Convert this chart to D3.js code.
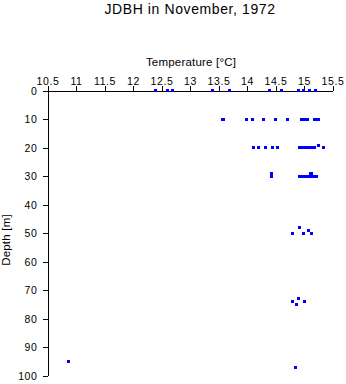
<!DOCTYPE html>
<html><head><meta charset="utf-8">
<script src="https://cdn.jsdelivr.net/npm/d3@7"></script>
<style>
html,body{margin:0;padding:0;background:#fff;}
svg{display:block;font-family:"Liberation Sans",Arial,sans-serif;}
</style></head>
<body>
<script>
const title = "JDBH in November, 1972";
const xLabel = "Temperature [°C]";
const yLabel = "Depth [m]";
const xTicks = [10.5, 11, 11.5, 12, 12.5, 13, 13.5, 14, 14.5, 15, 15.5];
const yTicks = [0, 10, 20, 30, 40, 50, 60, 70, 80, 90, 100];

// Temperature [°C] and depth [m] of each observation (parallel arrays)
const temperature = [
  12.40, 12.60, 12.69, 13.40, 13.70, 14.39, 14.60, 14.90, 14.99, 15.09, 15.20,
  13.57, 13.59, 14.00, 14.09, 14.29, 14.50, 14.71, 14.96, 15.00, 15.03, 15.06, 15.18, 15.22, 15.25,
  14.11, 14.20, 14.32, 14.45, 14.54, 14.92, 14.95, 14.98, 15.01, 15.04, 15.07, 15.10, 15.13, 15.16, 15.19, 15.25, 15.34,
  14.43, 14.43, 14.92, 14.96, 15.00, 15.04, 15.08, 15.12, 15.16, 15.20, 15.22, 15.11, 15.14,
  14.92, 14.79, 14.99, 15.08, 15.13,
  14.90, 14.79, 15.00, 14.87,
  14.85, 10.86
];
const depth = [
  0, 0, 0, 0, 0, 0, 0, 0, 0, 0, 0,
  10, 10, 10, 10, 10, 10, 10, 10, 10, 10, 10, 10, 10, 10,
  20, 20, 20, 20, 20, 20, 20, 20, 20, 20, 20, 20, 20, 20, 20, 19.3, 20,
  29.1, 30.1, 30, 30, 30, 30, 30, 30, 30, 30, 30, 29.2, 29.2,
  48.2, 50.3, 50.3, 49.2, 50.3,
  73.1, 74.1, 74.1, 75.2,
  97.1, 95.2
];

const W = 346, H = 384;
const svg = d3.select("body").append("svg").attr("width", W).attr("height", H);

const x = d3.scaleLinear().domain([10.5, 15.5]).range([47.5, 332.5]);
const y = d3.scaleLinear().domain([0, 100]).range([90.5, 375.5]);

svg.append("text").attr("x", 190).attr("y", 14).attr("text-anchor", "middle")
  .style("font-size", "14px").style("letter-spacing", "0.6px").text(title);

svg.append("text").attr("x", 191).attr("y", 65.5).attr("text-anchor", "middle")
  .style("font-size", "11.5px").style("letter-spacing", "0.2px").text(xLabel);

svg.append("text").attr("transform", "translate(10,240) rotate(-90)").attr("text-anchor", "middle")
  .style("font-size", "11.5px").style("letter-spacing", "0.2px").text(yLabel);

const xAxis = svg.append("g").attr("transform", "translate(0,90.5)")
  .call(d3.axisTop(x).tickValues(xTicks).tickSize(5).tickSizeOuter(0).tickPadding(1)
    .tickFormat(d => String(d)));
const yAxis = svg.append("g").attr("transform", "translate(47.5,0)")
  .call(d3.axisLeft(y).tickValues(yTicks).tickSize(5).tickSizeOuter(0).tickPadding(5)
    .tickFormat(d => String(d)));

[xAxis, yAxis].forEach(g => {
  g.selectAll("path,line").attr("stroke", "#000").attr("shape-rendering", "crispEdges");
  g.selectAll("text").attr("fill", "#000").style("font-size", "10.5px")
    .style("letter-spacing", "0.6px").style("font-family", "'Liberation Sans',Arial,sans-serif");
});
yAxis.selectAll("text").attr("dy", "0.36em");

const pts = temperature.map((t, i) => ({t, d: depth[i]}));
svg.append("g").selectAll("rect").data(pts).join("rect")
  .attr("x", p => Math.round(x(p.t) - 1.5))
  .attr("y", p => Math.round(y(p.d) - 1.5))
  .attr("width", 3).attr("height", 3)
  .attr("fill", "#0000ff").attr("shape-rendering", "crispEdges");
</script>
</body></html>
